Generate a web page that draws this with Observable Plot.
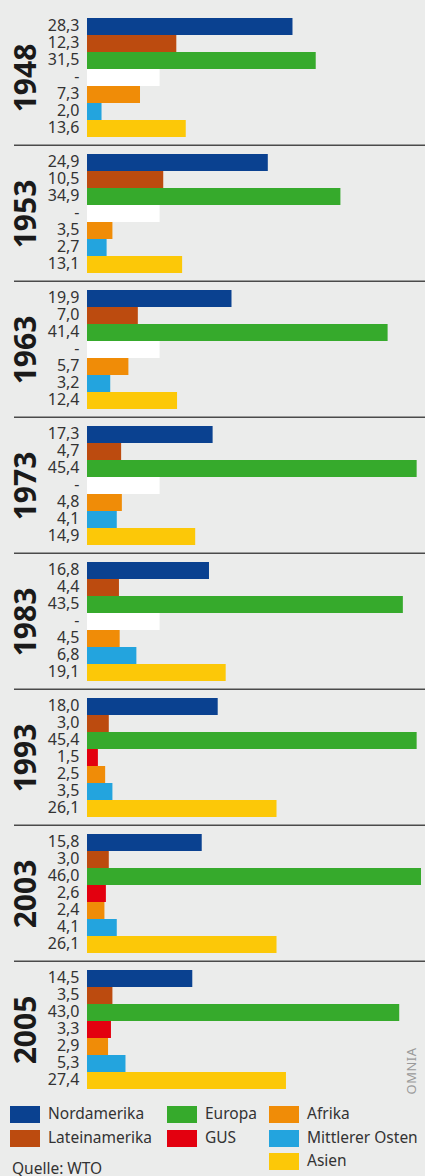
<!DOCTYPE html>
<html>
<head>
<meta charset="utf-8">
<script src="https://cdn.jsdelivr.net/npm/d3@7"></script>
<script src="https://cdn.jsdelivr.net/npm/@observablehq/plot@0.6"></script>
<style>
  html, body { margin: 0; padding: 0; background: #ebeceb; }
  #wrap { position: relative; width: 425px; height: 1176px; overflow: hidden; background: #ebeceb; font-family: "Noto Sans", sans-serif; color: #333; }
  #chart svg { display: block; }
  .lg { position: absolute; font-size: 15.5px; line-height: 17px; color: #333; white-space: nowrap; }
  .sw { position: absolute; width: 30px; height: 17px; }
  #omnia { position: absolute; left: 411px; top: 1071px; transform: translate(-50%, -50%) rotate(-90deg); font-size: 13px; color: #9a9a9a; letter-spacing: 0.5px; }
  #src { position: absolute; left: 12px; top: 1160px; font-size: 15.5px; line-height: 17px; color: #333; }
</style>
</head>
<body>
<div id="wrap">
  <div id="chart"></div>
  <div id="legend"></div>
  <div id="omnia">OMNIA</div>
  <div id="src">Quelle: WTO</div>
</div>
<script>
const years = ["1948", "1953", "1963", "1973", "1983", "1993", "2003", "2005"];
const regions = ["Nordamerika", "Lateinamerika", "Europa", "GUS", "Afrika", "Mittlerer Osten", "Asien"];
const colors = ["#0a4190", "#bc4b0f", "#36aa2c", "#e3000f", "#f08c07", "#23a4de", "#fcc808"];

const nordamerika    = [28.3, 24.9, 19.9, 17.3, 16.8, 18.0, 15.8, 14.5];
const lateinamerika  = [12.3, 10.5, 7.0, 4.7, 4.4, 3.0, 3.0, 3.5];
const europa         = [31.5, 34.9, 41.4, 45.4, 43.5, 45.4, 46.0, 43.0];
const gus            = [null, null, null, null, null, 1.5, 2.6, 3.3];
const afrika         = [7.3, 3.5, 5.7, 4.8, 4.5, 2.5, 2.4, 2.9];
const mittlererOsten = [2.0, 2.7, 3.2, 4.1, 6.8, 3.5, 4.1, 5.3];
const asien          = [13.6, 13.1, 12.4, 14.9, 19.1, 26.1, 26.1, 27.4];

const placeholder = 10; // width of the white "no data" bar, in percent units

const series = [nordamerika, lateinamerika, europa, gus, afrika, mittlererOsten, asien];
const data = [];
years.forEach((year, i) => {
  regions.forEach((region, j) => {
    const v = series[j][i];
    data.push({year, region, value: v, missing: v == null});
  });
});
const fmt = v => v == null ? "-" : d3.format(".1f")(v).replace(".", ",");
const middleRegion = regions[Math.floor(regions.length / 2)];

const plot = Plot.plot({
  width: 425,
  height: 1100,
  marginLeft: 87,
  marginRight: 4,
  marginTop: 6,
  marginBottom: 0,
  style: {background: "transparent", fontFamily: "Noto Sans, sans-serif"},
  x: {domain: [0, 46], axis: null},
  y: {domain: regions, padding: 0, insetTop: 8.2, insetBottom: 7.7, axis: null},
  fy: {domain: years, padding: 0, axis: null},
  color: {domain: [...regions, "fehlt"], range: [...colors, "#ffffff"]},
  marks: [
    Plot.barX(data, {
      fy: "year", y: "region",
      x: d => d.missing ? placeholder : d.value,
      fill: d => d.missing ? "fehlt" : d.region
    }),
    Plot.text(data, {
      fy: "year", y: "region", frameAnchor: "left",
      text: d => fmt(d.value), textAnchor: "end", dx: -8, dy: -1,
      fontSize: 16, fill: "#333"
    }),
    Plot.text(years, {
      fy: d => d, y: () => middleRegion, frameAnchor: "left", text: d => d,
      rotate: -90, textAnchor: "middle", lineAnchor: "middle",
      dx: -61, fontSize: 30, fontWeight: "bold", fill: "#1a1a1a"
    }),
    Plot.ruleY(years.slice(0, -1), {
      fy: d => d, y: () => "Asien", dy: 16.3,
      insetLeft: -73, insetRight: -4,
      stroke: "#4a4a4a", strokeWidth: 1.6
    })
  ]
});
document.getElementById("chart").appendChild(plot);

// legend
const legendItems = [
  {region: "Nordamerika", col: 0, row: 0},
  {region: "Lateinamerika", col: 0, row: 1},
  {region: "Europa", col: 1, row: 0},
  {region: "GUS", col: 1, row: 1},
  {region: "Afrika", col: 2, row: 0},
  {region: "Mittlerer Osten", col: 2, row: 1},
  {region: "Asien", col: 2, row: 2}
];
const colX = [10, 167, 269];
const rowY = [1106, 1129.5, 1153];
const legend = document.getElementById("legend");
legendItems.forEach(it => {
  const sw = document.createElement("div");
  sw.className = "sw";
  sw.style.left = colX[it.col] + "px";
  sw.style.top = rowY[it.row] + "px";
  sw.style.background = colors[regions.indexOf(it.region)];
  legend.appendChild(sw);
  const t = document.createElement("div");
  t.className = "lg";
  t.style.left = (colX[it.col] + 38) + "px";
  t.style.top = (rowY[it.row] - 1) + "px";
  t.textContent = it.region;
  legend.appendChild(t);
});
</script>
</body>
</html>
